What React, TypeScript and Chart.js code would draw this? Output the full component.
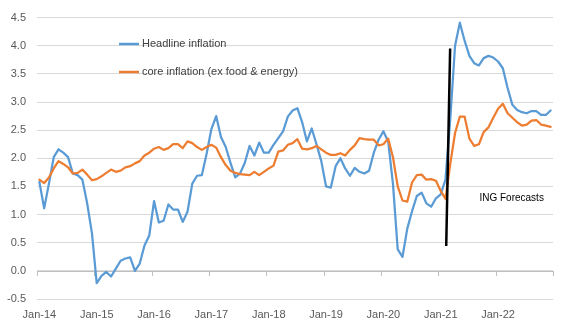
import React, { useEffect, useRef } from "react";
import { Chart, registerables } from "chart.js";

Chart.register(...registerables);

const monthNames = ["Jan", "Feb", "Mar", "Apr", "May", "Jun", "Jul", "Aug", "Sep", "Oct", "Nov", "Dec"];
const yearSuffixes = ["14", "15", "16", "17", "18", "19", "20", "21", "22"];
const categories = yearSuffixes.flatMap((y) => monthNames.map((m) => `${m}-${y}`));

const headline = [
  1.58, 1.11, 1.55, 2.02, 2.16, 2.1, 2.02, 1.73, 1.7, 1.62, 1.2, 0.67,
  -0.22, -0.09, -0.02, -0.1, 0.04, 0.18, 0.22, 0.24, 0.0, 0.13, 0.45, 0.63,
  1.24, 0.86, 0.89, 1.18, 1.09, 1.09, 0.87, 1.05, 1.55, 1.69, 1.7, 2.08,
  2.52, 2.75, 2.38, 2.2, 1.92, 1.66, 1.73, 1.92, 2.22, 2.05, 2.28, 2.1,
  2.1, 2.24, 2.36, 2.48, 2.74, 2.85, 2.89, 2.64, 2.3, 2.53, 2.25, 1.95,
  1.5, 1.48, 1.86, 2.0, 1.82, 1.69, 1.83, 1.76, 1.73, 1.78, 2.1, 2.33,
  2.48, 2.3, 1.55, 0.38, 0.25, 0.75, 1.06, 1.33, 1.39, 1.2, 1.14, 1.29,
  1.36, 1.62, 2.7, 4.0, 4.41, 4.09, 3.82, 3.69, 3.65, 3.78, 3.82, 3.79,
  3.72, 3.6, 3.25, 2.95, 2.86, 2.82, 2.8, 2.84, 2.84, 2.77, 2.77, 2.85,
];

const core = [
  1.62, 1.56, 1.66, 1.82, 1.95, 1.9, 1.84, 1.73, 1.74, 1.8, 1.71, 1.61,
  1.63, 1.68, 1.74, 1.8, 1.76, 1.78, 1.84, 1.86, 1.91, 1.95, 2.05, 2.1,
  2.17, 2.2, 2.15, 2.18, 2.25, 2.25, 2.18, 2.3, 2.27, 2.2, 2.15, 2.2,
  2.24, 2.19, 2.02, 1.88, 1.78, 1.74, 1.72, 1.71, 1.7, 1.76, 1.7, 1.76,
  1.82, 1.87, 2.12, 2.14, 2.24, 2.27, 2.34, 2.17, 2.16, 2.18, 2.22, 2.16,
  2.1, 2.06, 2.06, 2.09, 2.05, 2.15, 2.23, 2.36, 2.34, 2.33, 2.33, 2.23,
  2.25, 2.35, 2.02, 1.5, 1.25, 1.23, 1.57, 1.7, 1.71, 1.62, 1.63, 1.6,
  1.42, 1.28, 1.9, 2.45, 2.74, 2.74, 2.35, 2.22, 2.25, 2.47, 2.55, 2.72,
  2.88, 2.97, 2.8, 2.72, 2.64, 2.58, 2.6, 2.67, 2.68, 2.6, 2.58, 2.56,
];

const seriesNames = ["Headline inflation", "core inflation (ex food & energy)"];
const seriesColors = ["#5B9BD5", "#ED7D31"];

// forecast divider (category index, value) and annotation
const forecastLineFrom = { x: 85.15, y: 0.44 };
const forecastLineTo = { x: 85.97, y: 3.95 };
const forecastLabel = { text: "ING Forecasts", x: 92.1, y: 1.29 };

const FONT = "'Liberation Sans', Arial, sans-serif";

const overlayPlugin = {
  id: "overlay",
  beforeDatasetsDraw(chart: any) {
    const { ctx, scales } = chart;
    const xs = scales.x;
    const ys = scales.y;
    const y0 = ys.getPixelForValue(0);
    ctx.save();
    ctx.strokeStyle = "#BFBFBF";
    ctx.lineWidth = 1;
    ctx.beginPath();
    ctx.moveTo(xs.left, Math.round(y0) + 0.5);
    ctx.lineTo(xs.right, Math.round(y0) + 0.5);
    for (let i = 0; i <= categories.length; i += 12) {
      const px = Math.round(xs.getPixelForValue(i - 0.5)) + 0.5;
      ctx.moveTo(px, Math.round(y0));
      ctx.lineTo(px, Math.round(y0) + 5);
    }
    ctx.stroke();
    ctx.restore();
  },
  afterDatasetsDraw(chart: any) {
    const { ctx, scales, chartArea } = chart;
    const xs = scales.x;
    const ys = scales.y;
    ctx.save();
    // forecast divider
    ctx.strokeStyle = "#000000";
    ctx.lineWidth = 2.5;
    ctx.beginPath();
    ctx.moveTo(xs.getPixelForValue(forecastLineFrom.x), ys.getPixelForValue(forecastLineFrom.y));
    ctx.lineTo(xs.getPixelForValue(forecastLineTo.x), ys.getPixelForValue(forecastLineTo.y));
    ctx.stroke();
    // forecast label
    ctx.fillStyle = "#000000";
    ctx.font = `10px ${FONT}`;
    ctx.textAlign = "left";
    ctx.textBaseline = "middle";
    ctx.fillText(forecastLabel.text, xs.getPixelForValue(forecastLabel.x), ys.getPixelForValue(forecastLabel.y));
    // legend
    const lx = chartArea.left + 82;
    const rows = [44, 72];
    seriesNames.forEach((name, i) => {
      const y = rows[i];
      ctx.strokeStyle = seriesColors[i];
      ctx.lineWidth = 2.5;
      ctx.beginPath();
      ctx.moveTo(lx, y);
      ctx.lineTo(lx + 20, y);
      ctx.stroke();
      ctx.fillStyle = "#404040";
      ctx.font = `11px ${FONT}`;
      ctx.textAlign = "left";
      ctx.textBaseline = "middle";
      ctx.fillText(name, lx + 23, y);
    });
    ctx.restore();
  },
};

export default function App() {
  const canvasRef = useRef<HTMLCanvasElement>(null);

  useEffect(() => {
    document.body.style.margin = "0";
    const canvas = canvasRef.current;
    if (!canvas) return;
    const chart = new Chart(canvas, {
      type: "line",
      data: {
        labels: categories,
        datasets: [
          {
            label: seriesNames[0],
            data: headline,
            borderColor: seriesColors[0],
            backgroundColor: seriesColors[0],
            borderWidth: 2.25,
            pointRadius: 0,
            tension: 0,
            borderJoinStyle: "round",
            borderCapStyle: "round",
            order: 1,
          },
          {
            label: seriesNames[1],
            data: core,
            borderColor: seriesColors[1],
            backgroundColor: seriesColors[1],
            borderWidth: 2.25,
            pointRadius: 0,
            tension: 0,
            borderJoinStyle: "round",
            borderCapStyle: "round",
            order: 0,
          },
        ],
      },
      options: {
        responsive: false,
        animation: false,
        layout: { padding: { left: 0, right: 16, top: 16, bottom: 0 } },
        plugins: { legend: { display: false }, tooltip: { enabled: false } },
        scales: {
          x: {
            type: "category",
            offset: true,
            grid: { display: false, drawTicks: false },
            border: { display: false },
            ticks: {
              autoSkip: false,
              maxRotation: 0,
              minRotation: 0,
              padding: 9,
              color: "#595959",
              font: { family: FONT, size: 11 },
              callback: (_v: any, i: number) => (i % 12 === 0 ? categories[i] : ""),
            },
            afterFit: (s: any) => {
              s.height = 36;
            },
          },
          y: {
            min: -0.5,
            max: 4.5,
            grid: { color: "#D9D9D9", lineWidth: 1, drawTicks: false },
            border: { display: false },
            ticks: {
              stepSize: 0.5,
              padding: 11,
              color: "#595959",
              font: { family: FONT, size: 11 },
              callback: (v: any) => Number(v).toFixed(1),
            },
            afterFit: (s: any) => {
              s.width = 37;
            },
          },
        },
      },
      plugins: [overlayPlugin],
    });
    return () => chart.destroy();
  }, []);

  return (
    <div style={{ width: 569, height: 335 }}>
      <canvas ref={canvasRef} width={569} height={335} />
    </div>
  );
}
